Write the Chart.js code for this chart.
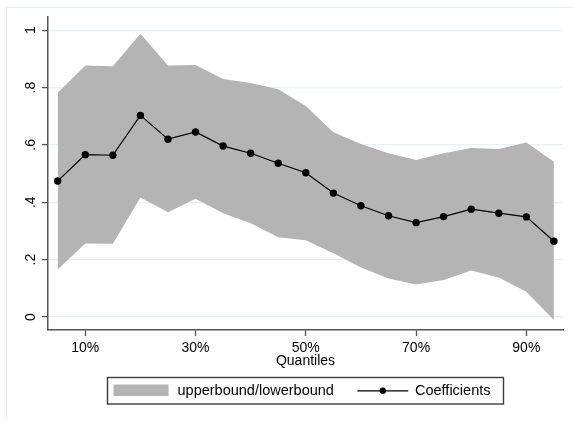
<!DOCTYPE html>
<html>
<head>
<meta charset="utf-8">
<script src="https://cdn.jsdelivr.net/npm/chart.js@4/dist/chart.umd.min.js"></script>
<style>
  html, body { margin: 0; padding: 0; background: #fff; }
  #wrap { width: 573px; height: 421px; position: relative; }
</style>
</head>
<body>
<div id="wrap"><canvas id="chart" width="573" height="421"></canvas></div>
<script>
// Quantile regression coefficients with confidence band
const quantiles   = [5, 10, 15, 20, 25, 30, 35, 40, 45, 50, 55, 60, 65, 70, 75, 80, 85, 90, 95];
const coefficients = [0.474, 0.566, 0.564, 0.703, 0.620, 0.645, 0.596, 0.571, 0.536, 0.503, 0.432, 0.388, 0.353, 0.329, 0.350, 0.376, 0.362, 0.349, 0.264];
const upperBound  = [0.782, 0.877, 0.874, 0.988, 0.877, 0.879, 0.830, 0.816, 0.794, 0.736, 0.644, 0.603, 0.571, 0.547, 0.571, 0.589, 0.586, 0.608, 0.541];
const lowerBound  = [0.166, 0.256, 0.255, 0.417, 0.365, 0.412, 0.362, 0.327, 0.278, 0.268, 0.222, 0.173, 0.134, 0.113, 0.129, 0.162, 0.138, 0.088, -0.010];

const xTickValues = [10, 30, 50, 70, 90];
const xTickLabels = ['10%', '30%', '50%', '70%', '90%'];
const yTickValues = [0, 0.2, 0.4, 0.6, 0.8, 1];
const yTickLabels = ['0', '.2', '.4', '.6', '.8', '1'];

const FONT = 'Liberation Sans, Arial, Helvetica, sans-serif';
const BAND = 'rgb(180,180,180)';
const AXIS = '#555555';
const GRID = '#E8F0F2';

const toPoints = (vals) => quantiles.map((q, i) => ({ x: q, y: vals[i] }));

// Outer graph-region frame
const framePlugin = {
  id: 'frame',
  beforeDraw(chart) {
    const ctx = chart.ctx;
    ctx.save();
    ctx.strokeStyle = '#E3ECEE';
    ctx.lineWidth = 1;
    ctx.strokeRect(6.5, 7.5, 700, 500);
    ctx.restore();
  }
};

// Boxed legend below the plot
const boxLegend = {
  id: 'boxLegend',
  afterDraw(chart) {
    const ctx = chart.ctx;
    const band = chart.data.datasets[0];
    const coef = chart.data.datasets[2];
    ctx.save();
    ctx.fillStyle = '#fff';
    ctx.fillRect(107.5, 377.5, 396, 26.5);
    ctx.strokeStyle = '#3c3c3c';
    ctx.lineWidth = 1.4;
    ctx.strokeRect(107.5, 377.5, 396, 26.5);

    ctx.fillStyle = band.backgroundColor;
    ctx.fillRect(113.5, 384.5, 55, 11.5);

    ctx.font = '14.5px ' + FONT;
    ctx.fillStyle = '#000';
    ctx.textBaseline = 'middle';
    ctx.textAlign = 'left';
    ctx.fillText(band.label, 177.5, 391);

    ctx.strokeStyle = coef.borderColor;
    ctx.lineWidth = 1.2;
    ctx.beginPath();
    ctx.moveTo(357.3, 390.8);
    ctx.lineTo(408.3, 390.8);
    ctx.stroke();
    ctx.fillStyle = coef.pointBackgroundColor;
    ctx.beginPath();
    ctx.arc(382.8, 390.8, 3.2, 0, Math.PI * 2);
    ctx.fill();

    ctx.fillStyle = '#000';
    ctx.fillText(coef.label, 415, 391);
    ctx.restore();
  }
};

new Chart(document.getElementById('chart'), {
  type: 'line',
  data: {
    datasets: [
      {
        label: 'upperbound/lowerbound',
        data: toPoints(upperBound),
        backgroundColor: BAND,
        borderWidth: 0,
        borderColor: BAND,
        pointRadius: 0,
        fill: 1,
        tension: 0,
        order: 2
      },
      {
        label: 'lower',
        data: toPoints(lowerBound),
        backgroundColor: BAND,
        borderWidth: 0,
        borderColor: BAND,
        pointRadius: 0,
        fill: false,
        tension: 0,
        order: 2
      },
      {
        label: 'Coefficients',
        data: toPoints(coefficients),
        borderColor: '#000',
        borderWidth: 1.2,
        pointRadius: 3.7,
        pointBackgroundColor: '#000',
        pointBorderColor: '#000',
        pointBorderWidth: 0,
        fill: false,
        tension: 0,
        order: 1
      }
    ]
  },
  options: {
    responsive: false,
    animation: false,
    events: [],
    layout: { padding: { left: 0, top: 17, right: 10, bottom: 51.6 } },
    plugins: {
      legend: { display: false },
      tooltip: { enabled: false },
      title: { display: false }
    },
    scales: {
      x: {
        type: 'linear',
        min: 3.24,
        max: 96.65,
        afterBuildTicks(scale) {
          scale.ticks = xTickValues.map(v => ({ value: v }));
        },
        afterFit(scale) { scale.height = 39.4; },
        ticks: {
          autoSkip: false,
          maxRotation: 0,
          padding: 4,
          color: '#000',
          font: { family: FONT, size: 14 },
          callback: (v) => xTickLabels[xTickValues.indexOf(v)]
        },
        grid: {
          drawOnChartArea: false,
          drawTicks: true,
          tickLength: 6,
          tickColor: AXIS,
          tickWidth: 1.3
        },
        border: { display: true, color: AXIS, width: 1.5 },
        title: {
          display: true,
          text: 'Quantiles',
          color: '#000',
          font: { family: FONT, size: 14 },
          padding: { top: 0, bottom: 0 }
        }
      },
      y: {
        type: 'linear',
        min: -0.0453,
        max: 1.046,
        afterBuildTicks(scale) {
          scale.ticks = yTickValues.map(v => ({ value: v }));
        },
        afterFit(scale) { scale.width = 48; },
        ticks: {
          autoSkip: false,
          minRotation: 90,
          maxRotation: 90,
          crossAlign: 'center',
          padding: 5,
          color: '#000',
          font: { family: FONT, size: 14 },
          callback: (v) => {
            const i = yTickValues.findIndex(t => Math.abs(t - v) < 1e-9);
            return i >= 0 ? yTickLabels[i] : '';
          }
        },
        grid: {
          drawOnChartArea: true,
          color: GRID,
          lineWidth: 1.2,
          drawTicks: true,
          tickLength: 6,
          tickColor: AXIS,
          tickWidth: 1.3
        },
        border: { display: true, color: AXIS, width: 1.5 }
      }
    }
  },
  plugins: [framePlugin, boxLegend]
});
</script>
</body>
</html>
